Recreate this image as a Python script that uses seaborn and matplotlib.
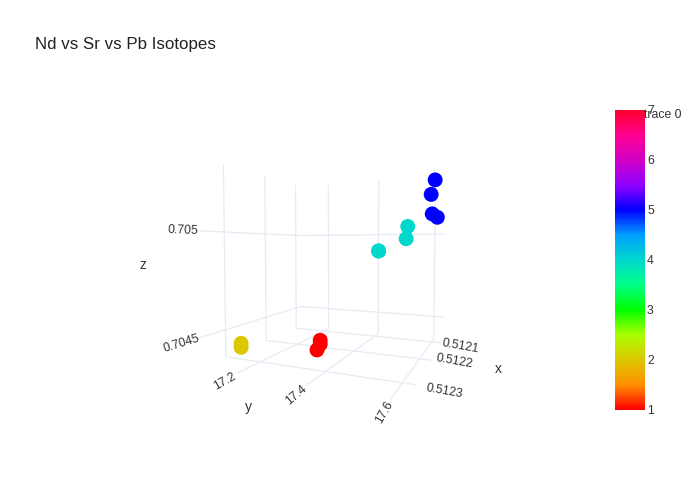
import matplotlib
matplotlib.use("Agg")
import matplotlib.pyplot as plt
import seaborn as sns
import numpy as np
from matplotlib.cm import ScalarMappable
from matplotlib.colors import Normalize

sns.set_theme(style="white")
plt.rcParams["font.family"] = ["Liberation Sans", "DejaVu Sans"]
plt.rcParams["grid.color"] = "#e6ebf4"
plt.rcParams["grid.linewidth"] = 0.9
plt.rcParams["axes3d.grid"] = True

nd = [0.51230, 0.51230, 0.51227, 0.51227, 0.51228, 0.51215, 0.51215, 0.51213, 0.51213, 0.51212, 0.51212, 0.51212, 0.51212]
pb = [17.135, 17.135, 17.345, 17.355, 17.365, 17.445, 17.445, 17.525, 17.53, 17.612, 17.60, 17.604, 17.62]
sr = [0.70442, 0.70444, 0.70442, 0.70445, 0.70448, 0.70490, 0.70490, 0.70497, 0.70504, 0.70530, 0.70522, 0.70511, 0.70509]
group = [2, 2, 1, 1, 1, 4, 4, 4, 4, 5, 5, 5, 5]

x_ticks = [0.5121, 0.5122, 0.5123]
y_ticks = [17.2, 17.4, 17.6]
z_ticks = [0.7045, 0.705]
x_labels = ["0.5121", "0.5122", "0.5123"]
y_labels = ["17.2", "17.4", "17.6"]
z_labels = ["0.7045", "0.705"]
bar_ticks = [1, 2, 3, 4, 5, 6, 7]
bar_colors = ["#ff0000", "#ff9000", "#dcc800", "#a8ff00", "#00ff00", "#00ff88", "#00d8cc",
              "#00a0ff", "#0000ff", "#9000ff", "#d000c8", "#ff0090", "#ff0030"]
x_rot = [-10, -10, -10]
y_rot = [30, 40, 60]
z_rot = [17, -2]

W, H = 700, 500
TEXT = "#333333"
fig = plt.figure(figsize=(7, 5), dpi=100)
side = 310
ax = fig.add_axes([178 / W, 80 / H, side / W, side / H], projection="3d")
ax.set_proj_type("persp", focal_length=0.2256)
ax.view_init(elev=2.4, azim=23.5)
ax.set_box_aspect((1, 1, 1))
ax.patch.set_alpha(0)

cmap = sns.blend_palette(bar_colors, n_colors=256, as_cmap=True)
norm = Normalize(1, 7)
ax.scatter(nd, pb, sr, c=group, cmap=cmap, norm=norm, s=115, depthshade=False, linewidths=0, alpha=1)

ax.set_xlim(0.51208, 0.51235, view_margin=0)
ax.set_ylim(17.08, 17.634, view_margin=0)
ax.set_zlim(0.70436, 0.70534, view_margin=0)
ax.set_xticks(x_ticks, x_labels)
ax.set_yticks(y_ticks, y_labels)
ax.set_zticks(z_ticks, z_labels)
for axis in (ax.xaxis, ax.yaxis, ax.zaxis):
    axis.set_pane_color((1, 1, 1, 0))
    axis.line.set_color((1, 1, 1, 0))
ax.tick_params(axis="x", labelsize=8.8, labelcolor=TEXT, pad=-7)
ax.tick_params(axis="y", labelsize=8.8, labelcolor=TEXT, pad=-7)
ax.tick_params(axis="z", labelsize=8.8, labelcolor=TEXT, pad=-8)
for axis, rots, ha in ((ax.xaxis, x_rot, "left"), (ax.yaxis, y_rot, "right"), (ax.zaxis, z_rot, "right")):
    for tick, rot in zip(axis.get_major_ticks(), rots):
        tick.tick1line.set_visible(False)
        tick.tick1line.set_alpha(0)
        tick.label1.set_rotation(rot)
        tick.label1.set_rotation_mode("anchor")
        tick.label1.set_ha(ha)
        tick.label1.set_va("center")
for tick, pad, va in zip(ax.xaxis.get_major_ticks(), [-8, -6, -4], ["center", "bottom", "bottom"]):
    tick.set_pad(pad)
    tick.label1.set_va(va)

fig.text(35 / W, 1 - 45 / H, "Nd vs Sr vs Pb Isotopes", fontsize=12.2, color="#222222", va="center")
fig.text(498 / W, 1 - 369 / H, "x", fontsize=10, color=TEXT, ha="center", va="center")
fig.text(248 / W, 1 - 407 / H, "y", fontsize=10, color=TEXT, ha="center", va="center")
fig.text(143 / W, 1 - 265 / H, "z", fontsize=10, color=TEXT, ha="center", va="center")

cax = fig.add_axes([615 / W, 1 - 410 / H, 30 / W, 300 / H])
cb = fig.colorbar(ScalarMappable(norm=norm, cmap=cmap), cax=cax, ticks=bar_ticks)
cb.outline.set_visible(False)
cb.ax.tick_params(length=0, labelsize=8.8, labelcolor=TEXT, pad=1.5)
fig.text(644 / W, 1 - 115 / H, "trace 0", fontsize=8.8, color=TEXT, va="center")

fig.savefig("out.png", dpi=100)
